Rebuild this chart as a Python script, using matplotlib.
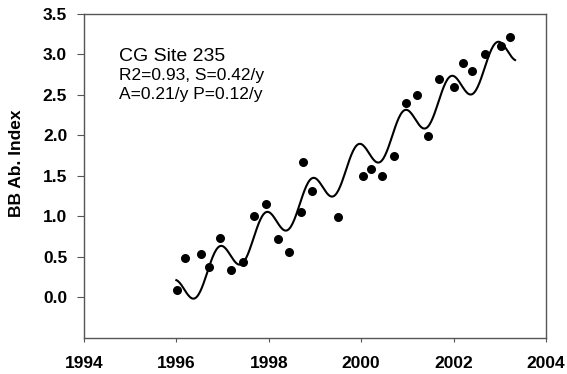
import numpy as np
import matplotlib
matplotlib.use('Agg')
import matplotlib.pyplot as plt

plt.rcParams['font.family'] = ['Liberation Sans', 'DejaVu Sans']

# Datos observados (año, índice)
anios = [1996.01, 1996.19, 1996.54, 1996.70, 1996.94, 1997.19, 1997.44, 1997.68,
         1997.93, 1998.20, 1998.43, 1998.69, 1998.75, 1998.93, 1999.50, 2000.04,
         2000.21, 2000.44, 2000.70, 2000.98, 2001.21, 2001.44, 2001.69, 2002.01,
         2002.20, 2002.40, 2002.67, 2003.03, 2003.23]
indice = [0.09, 0.49, 0.54, 0.38, 0.74, 0.34, 0.44, 1.00,
          1.16, 0.72, 0.56, 1.05, 1.67, 1.32, 0.99, 1.50,
          1.59, 1.50, 1.75, 2.40, 2.50, 1.99, 2.70, 2.60,
          2.90, 2.80, 3.01, 3.11, 3.21]

# Parámetros del ajuste (tendencia + estacionalidad)
pendiente = 0.42
amplitud = 0.21
intercepto = 0.03
fase = 0.92
t0, t1 = 1996.0, 2003.33

xticks = [1994, 1996, 1998, 2000, 2002, 2004]
yticks = [0.0, 0.5, 1.0, 1.5, 2.0, 2.5, 3.0, 3.5]

t = np.linspace(t0, t1, 400)
ajuste = intercepto + pendiente * (t - 1996) + amplitud * np.cos(2 * np.pi * (t - fase))

fig = plt.figure(figsize=(5.67, 3.74), dpi=100)
ax = fig.add_axes([0.148, 0.0963, 0.815, 0.8663])

ax.plot(t, ajuste, color='black', lw=1.5)
ax.scatter(anios, indice, s=30, color='black', zorder=3)

ax.set_xlim(1994, 2004)
ax.set_ylim(-0.5, 3.5)
ax.set_xticks(xticks)
ax.set_yticks(yticks)
ax.set_yticklabels(['%.1f' % v for v in yticks])
ax.tick_params(direction='out', width=0.8, color='#555555', labelsize=12.5)
ax.tick_params(axis='y', length=5, pad=7)
ax.tick_params(axis='x', length=3, pad=10)
for lab in ax.get_xticklabels() + ax.get_yticklabels():
    lab.set_fontweight('bold')
for sp in ax.spines.values():
    sp.set_color('#555555')
    sp.set_linewidth(1.0)

ax.set_ylabel('BB Ab. Index', fontsize=12.5, fontweight='bold')
ax.yaxis.set_label_coords(-0.13, 0.54)

ax.text(0.075, 0.856, 'CG Site 235', transform=ax.transAxes, fontsize=14)
ax.text(0.075, 0.796, 'R2=0.93, S=0.42/y', transform=ax.transAxes, fontsize=12.5)
ax.text(0.075, 0.737, 'A=0.21/y P=0.12/y', transform=ax.transAxes, fontsize=12.5)

plt.savefig('out.png', dpi=100)
